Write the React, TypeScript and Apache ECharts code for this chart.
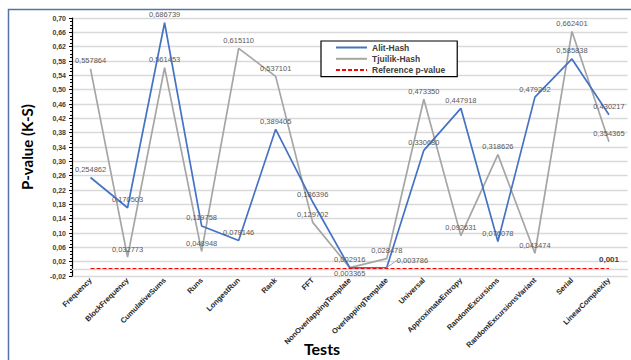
import React, { useEffect, useRef } from "react";
import * as echarts from "echarts";

const categories = [
  "Frequency",
  "BlockFrequency",
  "CumulativeSums",
  "Runs",
  "LongestRun",
  "Rank",
  "FFT",
  "NonOverlappingTemplate",
  "OverlappingTemplate",
  "Universal",
  "ApproximateEntropy",
  "RandomExcursions",
  "RandomExcursionsVariant",
  "Serial",
  "LinearComplexity",
];

const alitHash = [
  0.254862, 0.170503, 0.686739, 0.119758, 0.079146, 0.389405, 0.186396, 0.002916,
  0.003786, 0.33068, 0.447918, 0.076078, 0.479292, 0.585838, 0.430217,
];

const tjuilikHash = [
  0.557864, 0.032773, 0.561453, 0.048948, 0.61511, 0.537101, 0.129702, 0.003365,
  0.028478, 0.47335, 0.092631, 0.318626, 0.043474, 0.662401, 0.354365,
];

const referenceP = categories.map(() => 0.001);

const seriesNames = ["Alit-Hash", "Tjuilik-Hash", "Reference p-value"];

const fmt6 = (v: number) => v.toFixed(6).replace(".", ",");

export default function App() {
  const ref = useRef<HTMLDivElement>(null);

  useEffect(() => {
    document.body.style.margin = "0";
    if (!ref.current) return;
    const chart = echarts.init(ref.current, undefined, { renderer: "svg" });

    const labelStyle = {
      show: true,
      position: "top" as const,
      distance: 4,
      fontSize: 7.5,
      color: "#595959",
      fontFamily: "Liberation Sans, Arial, sans-serif",
      formatter: (p: any) => fmt6(p.value),
    };

    const alitData = alitHash.map((v, i) =>
      i === 8
        ? {
            value: v,
            label: { position: "right" as const, distance: 2 },
            labelLine: { show: true, lineStyle: { color: "#a6a6a6", width: 1 } },
          }
        : v
    );
    const tjuilikData = tjuilikHash.map((v, i) =>
      i === 7 ? { value: v, label: { position: "bottom" as const, distance: 2 } } : v
    );
    const refData = referenceP.map((v, i) =>
      i === referenceP.length - 1
        ? {
            value: v,
            label: {
              show: true,
              position: "top" as const,
              distance: 5,
              fontSize: 8,
              fontWeight: "bold" as const,
              color: "#404040",
              fontFamily: "Liberation Sans, Arial, sans-serif",
              formatter: (p: any) => p.value.toFixed(3).replace(".", ","),
            },
          }
        : v
    );

    chart.setOption({
      animation: false,
      backgroundColor: "#ffffff",
      graphic: [
        {
          type: "rect",
          left: 6,
          top: 7,
          shape: { width: 700, height: 500 },
          style: { fill: "none", stroke: "#5573aa", lineWidth: 1.5 },
          z: -1,
        },
        {
          type: "text",
          x: 322,
          y: 348,
          style: {
            text: "Tests",
            fontSize: 16,
            fontWeight: "bold",
            fontFamily: "Lato, sans-serif",
            fill: "#000000",
            align: "center",
            verticalAlign: "middle",
          },
        },
      ],
      legend: {
        orient: "vertical",
        left: 321,
        top: 41,
        data: seriesNames,
        backgroundColor: "#ffffff",
        borderColor: "#000000",
        borderWidth: 1.2,
        borderRadius: 0,
        padding: [2, 12, 2, 14],
        itemWidth: 31,
        itemHeight: 10,
        itemGap: 2.3,
        itemStyle: { opacity: 0 },
        textStyle: {
          fontSize: 8.5,
          fontWeight: "bold",
          color: "#404040",
          fontFamily: "Liberation Sans, Arial, sans-serif",
        },
      },
      grid: { left: 72, right: 3.5, top: 18, bottom: 84, containLabel: false },
      xAxis: {
        type: "category",
        data: categories,
        boundaryGap: true,
        axisLine: { show: true, lineStyle: { color: "#d9d9d9", width: 1.3 } },
        axisTick: { show: false },
        axisLabel: {
          rotate: 45,
          interval: 0,
          margin: 3,
          fontSize: 7.5,
          fontWeight: "bold",
          color: "#262626",
          fontFamily: "Liberation Sans, Arial, sans-serif",
        },
      },
      yAxis: {
        type: "value",
        min: -0.02,
        max: 0.7,
        interval: 0.04,
        name: "P-value (K-S)",
        nameLocation: "middle",
        nameGap: 38,
        nameTextStyle: {
          fontSize: 15,
          fontWeight: "bold",
          color: "#000000",
          fontFamily: "Lato, sans-serif",
        },
        axisLine: { show: true, lineStyle: { color: "#000000", width: 1.2 } },
        axisTick: { show: true, length: 3, lineStyle: { color: "#000000" } },
        minorTick: { show: true, splitNumber: 4, length: 2, lineStyle: { color: "#000000" } },
        axisLabel: {
          margin: 6,
          fontSize: 7,
          fontWeight: "bold",
          color: "#404040",
          fontFamily: "Liberation Sans, Arial, sans-serif",
          formatter: (v: number) => v.toFixed(2).replace(".", ","),
        },
        splitLine: { show: true, lineStyle: { color: "#d9d9d9", width: 1.3 } },
      },
      series: [
        {
          name: seriesNames[0],
          type: "line",
          data: alitData,
          symbol: "circle",
          symbolSize: 0.01,
          lineStyle: { color: "#4472c4", width: 1.7 },
          itemStyle: { color: "#4472c4" },
          label: labelStyle,
          labelLayout: (params: any) =>
            params.dataIndex === 8 ? { dx: 8, dy: -7 } : {},
          z: 3,
        },
        {
          name: seriesNames[1],
          type: "line",
          data: tjuilikData,
          symbol: "circle",
          symbolSize: 0.01,
          lineStyle: { color: "#a5a5a5", width: 1.7 },
          itemStyle: { color: "#a5a5a5" },
          label: labelStyle,
          z: 2,
        },
        {
          name: seriesNames[2],
          type: "line",
          data: refData,
          symbol: "circle",
          symbolSize: 0.01,
          lineStyle: { color: "#ff0000", width: 1.2, type: [4, 2] },
          itemStyle: { color: "#ff0000" },
          label: { show: false },
          z: 4,
        },
      ],
    });

    return () => chart.dispose();
  }, []);

  return <div ref={ref} style={{ width: 631, height: 360 }} />;
}
